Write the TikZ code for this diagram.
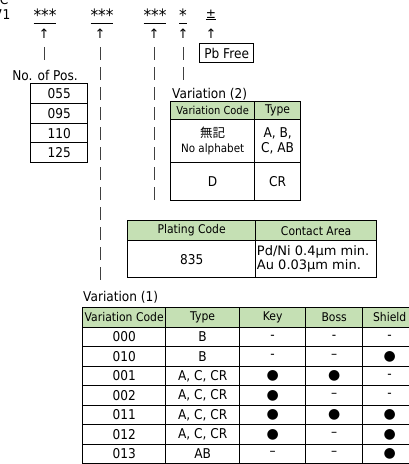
\documentclass[tikz,border=0pt]{standalone}
\usepackage{fontspec}
\setmainfont{DejaVu Sans}[FakeStretch=0.9]
\newfontfamily\verd{DejaVu Sans}
\newfontfamily\symf{DejaVu Sans}
\newfontfamily\cjk{Noto Sans CJK JP}
\definecolor{hdr}{RGB}{197,224,180}
\newcommand\hy{-}
\newcommand\en{–}
\newcommand\bul{{\symf\fontsize{14}{14}\selectfont ●}}
\newcommand\mycell[7]{\node[#6, minimum width={#4-#2}, minimum height={#5-#3}] (#1) at (#2,#3) {#7};}
\begin{document}
\begin{tikzpicture}[x=1pt,y=-1pt,
  txt/.style={inner sep=0pt, font=\fontsize{13.5}{14}\selectfont},
  star/.style={inner sep=0pt, font=\fontsize{17}{17}\selectfont},
  arr/.style={inner sep=0pt, font=\symf\fontsize{13}{13}\selectfont},
  cell/.style={draw=black, line width=1.3pt, inner sep=0pt, anchor=north west, align=center, font=\fontsize{13.5}{14}\selectfont},
  hcell/.style={cell, fill=hdr, font=\fontsize{12}{12}\selectfont},
  bar/.style={draw=black!75, line width=0.9pt, dash pattern=on 13pt off 7pt}]
\useasboundingbox (0,0) rectangle (408,464);
% top code line
\node[txt] (tc) at (4,0) {C};
\node[txt, anchor=east] (t71) at (10.5,15) {71};
\node[star] (s1) at (45,16) {\underline{***}};
\node[star] (s2) at (102,16) {\underline{***}};
\node[star] (s3) at (155,16) {\underline{***}};
\node[star] (s4) at (183,16) {\underline{*}};
\node[txt] (s5) at (211,15) {\underline{±}};
% arrows
\node[arr] (a1) at (44,33.5) {↑};
\node[arr] (a2) at (100,33.5) {↑};
\node[arr] (a3) at (154,33.5) {↑};
\node[arr] (a4) at (183,33.5) {↑};
\node[arr] (a5) at (211,33.5) {↑};
% bars
\coordinate (b1t) at (44,47); \coordinate (b1b) at (44,60);
\coordinate (b2t) at (100,47); \coordinate (b2b) at (100,280);
\coordinate (b3t) at (154,47); \coordinate (b3b) at (154,200);
\coordinate (b4t) at (183,47); \coordinate (b4b) at (183,80);
\draw[bar] (b1t) -- (b1b);
\draw[bar] (b2t) -- (b2b);
\draw[bar] (b3t) -- (b3b);
\draw[bar] (b4t) -- (b4b);
% Pb Free
\mycell{pb}{199}{43}{253}{62}{cell}{Pb Free}
% No. of Pos.
\node[txt] (nop) at (45,75) {No. of Pos.};
\mycell{p1}{30}{83}{87}{103}{cell}{055}
\mycell{p2}{30}{103}{87}{123}{cell}{095}
\mycell{p3}{30}{123}{87}{142}{cell}{110}
\mycell{p4}{30}{142}{87}{162}{cell}{125}
% Variation (2)
\node[txt, anchor=west] (v2l) at (172,94) {Variation (2)};
\mycell{v2h1}{170}{101}{254}{119}{hcell, font=\fontsize{11}{11}\selectfont}{Variation Code}
\mycell{v2h2}{254}{101}{300}{119}{hcell}{Type}
\mycell{v2a1}{170}{119}{254}{162}{cell}{{\cjk\fontsize{12.5}{12.5}\selectfont 無記}\\[1pt]{\fontsize{11.5}{12}\selectfont No alphabet}}
\mycell{v2a2}{254}{119}{300}{162}{cell, font=\fontsize{13.5}{15}\selectfont}{A, B,\\C, AB}
\mycell{v2b1}{170}{162}{254}{200}{cell}{D}
\mycell{v2b2}{254}{162}{300}{200}{cell}{CR}
% Plating
\mycell{plh1}{127}{220}{255}{240}{hcell}{Plating Code}
\mycell{plh2}{255}{220}{376}{240}{hcell}{Contact Area}
\mycell{pla1}{127}{240}{255}{277}{cell}{835}
\mycell{pla2}{255}{240}{376}{277}{cell, align=left, font=\verd\fontsize{13}{12.5}\selectfont}{\hspace*{-6pt}Pd/Ni 0.4µm min.\\\hspace*{-6pt}Au 0.03µm min.}
% Variation (1)
\node[txt, anchor=west] (v1l) at (83,297) {Variation (1)};
\mycell{v1h1}{82}{307}{165}{326.5}{hcell}{Variation Code}
\mycell{v1h2}{165}{307}{239}{326.5}{hcell}{Type}
\mycell{v1h3}{239}{307}{305}{326.5}{hcell}{Key}
\mycell{v1h4}{305}{307}{362}{326.5}{hcell}{Boss}
\mycell{v1h5}{362}{307}{416}{326.5}{hcell}{Shield}
\foreach \c/\t/\k/\b/\s [count=\i from 0] in {000/B/\hy/\hy/\hy, 010/B/\hy/\en/\bul, 001/{A, C, CR}/\bul/\bul/\hy, 002/{A, C, CR}/\bul/\en/\hy, 011/{A, C, CR}/\bul/\bul/\bul, 012/{A, C, CR}/\bul/\en/\bul, 013/AB/\en/\en/\bul}
{
  \pgfmathsetmacro\ya{326.5+19.5*\i}
  \pgfmathsetmacro\yb{\ya+19.5}
  \mycell{r\i c1}{82}{\ya}{165}{\yb}{cell}{\c}
  \mycell{r\i c2}{165}{\ya}{239}{\yb}{cell}{\t}
  \mycell{r\i c3}{239}{\ya}{305}{\yb}{cell}{\k}
  \mycell{r\i c4}{305}{\ya}{362}{\yb}{cell}{\b}
  \mycell{r\i c5}{362}{\ya}{416}{\yb}{cell}{\s}
}
\end{tikzpicture}
\end{document}
